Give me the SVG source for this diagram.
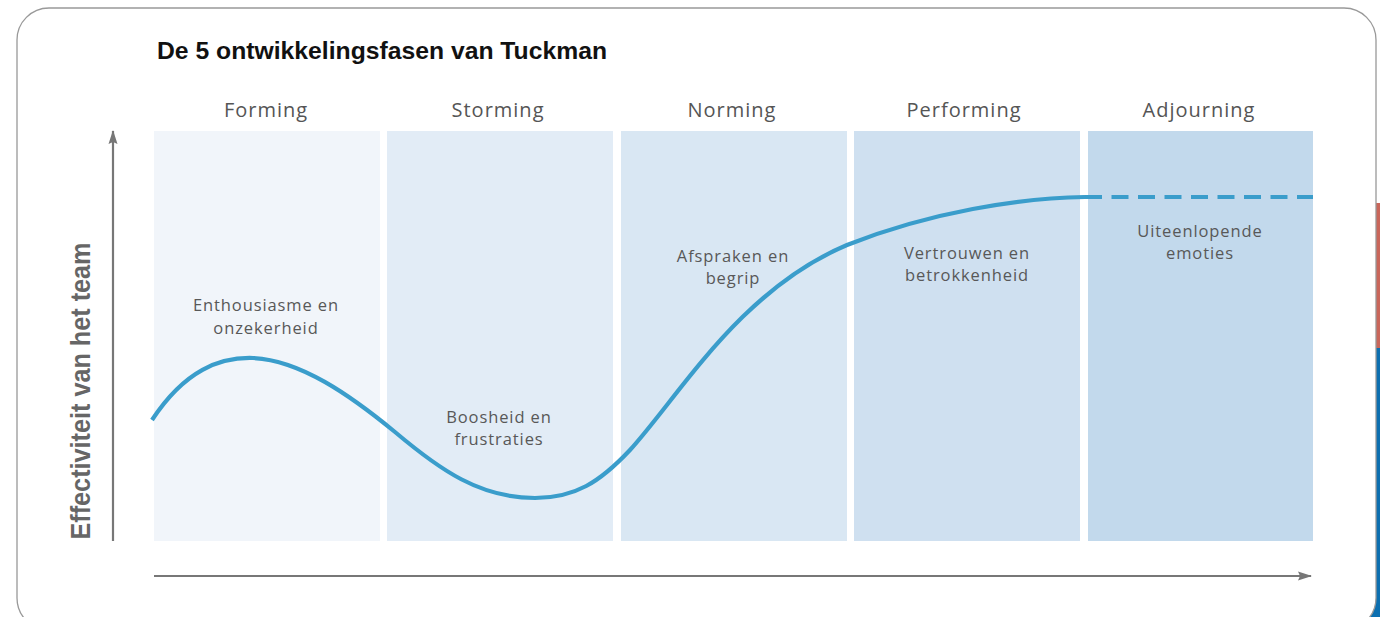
<svg xmlns="http://www.w3.org/2000/svg" width="1380" height="617" viewBox="0 0 1380 617">
<style>
.phase{font-family:"Open Sans","Noto Sans",sans-serif;font-size:20px;fill:#555;text-anchor:middle;letter-spacing:1px}
.lbl{font-family:"Open Sans","Noto Sans",sans-serif;font-size:16.5px;fill:#585858;text-anchor:middle;letter-spacing:0.9px}
.axis{stroke:#777;stroke-width:2.2;fill:none}
.curve{stroke:#3a9dcb;stroke-width:4.2;fill:none;stroke-linecap:butt}
</style>
<defs>
<marker id="ah" markerWidth="14" markerHeight="10" refX="13" refY="5" orient="auto" markerUnits="userSpaceOnUse" viewBox="0 0 14 10">
<path d="M0,0.5 L14,5 L0,9.5 L2,5 z" fill="#777"/>
</marker>
</defs>
<rect width="1380" height="617" fill="#fff"/>
<path d="M1376,203 H1380 V348 H1376 Z" fill="#c9665a"/>
<path d="M1376,348 H1380 V617 H1369.7 A32,32 0 0 0 1376,598 Z" fill="#0c6fb0"/>
<rect x="17" y="8" width="1359" height="622" rx="32" ry="32" fill="none" stroke="#999" stroke-width="1.3"/>
<text x="157" y="59" textLength="450" lengthAdjust="spacingAndGlyphs" style="font-family:'Liberation Sans',Arial,sans-serif;font-weight:bold;font-size:24px;fill:#111">De 5 ontwikkelingsfasen van Tuckman</text>
<g id="forming"><rect x="154" y="131" width="226" height="410" fill="#f1f5fa"/><text class="phase" x="266" y="117">Forming</text>
<text class="lbl" x="266" y="311">Enthousiasme en</text><text class="lbl" x="266" y="334">onzekerheid</text></g>
<g id="storming"><rect x="387" y="131" width="226" height="410" fill="#e2ecf6"/><text class="phase" x="498" y="117">Storming</text>
<text class="lbl" x="499" y="423">Boosheid en</text><text class="lbl" x="499" y="445">frustraties</text></g>
<g id="norming"><rect x="621" y="131" width="226" height="410" fill="#d9e7f3"/><text class="phase" x="732" y="117">Norming</text>
<text class="lbl" x="733" y="262">Afspraken en</text><text class="lbl" x="733" y="284">begrip</text></g>
<g id="performing"><rect x="854" y="131" width="226" height="410" fill="#cfe0f0"/><text class="phase" x="964" y="117">Performing</text>
<text class="lbl" x="967" y="259">Vertrouwen en</text><text class="lbl" x="967" y="281">betrokkenheid</text></g>
<g id="adjourning"><rect x="1088" y="131" width="225" height="410" fill="#c2d9ec"/><text class="phase" x="1199" y="117">Adjourning</text>
<text class="lbl" x="1200" y="237">Uiteenlopende</text><text class="lbl" x="1200" y="259">emoties</text></g>
<g id="connectors">
<line class="axis" x1="113" y1="541" x2="113" y2="131" marker-end="url(#ah)"/>
<line class="axis" x1="154" y1="576" x2="1311" y2="576" marker-end="url(#ah)"/>
<path class="curve" d="M152,420 C185,370 220,357 253,358 C300,360 350,395 395,432 C440,470 480,498 535,498 C575,498 600,482 630,450 C680,395 740,290 847,245 C930,212 1020,198 1085,197"/>
<path class="curve" d="M1085,197 H1313" stroke-dasharray="17 9.5"/>
</g>
<text transform="translate(90,391) rotate(-90)" textLength="297" lengthAdjust="spacingAndGlyphs" style="font-family:'Liberation Sans',Arial,sans-serif;font-weight:bold;font-size:27px;fill:#666;text-anchor:middle">Effectiviteit van het team</text>
</svg>
